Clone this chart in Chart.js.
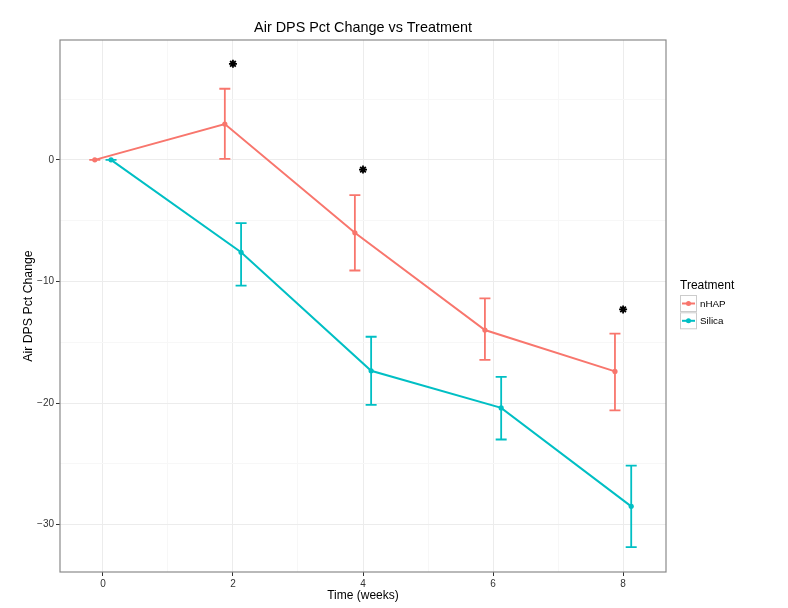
<!DOCTYPE html>
<html>
<head>
<meta charset="utf-8">
<script src="https://cdn.jsdelivr.net/npm/chart.js@4.4.1/dist/chart.umd.min.js"></script>
<style>
  html, body { margin: 0; padding: 0; background: #fff; }
  #wrap { width: 788px; height: 608px; }
</style>
</head>
<body>
<div id="wrap"><canvas id="chart" width="788" height="608"></canvas></div>
<script>
// weeks and group means / error bar ends
const weeks = [0, 2, 4, 6, 8];
const nhapMean = [0, 2.95, -6.0, -14.0, -17.4];
const nhapHigh = [0, 5.85, -2.9, -11.4, -14.3];
const nhapLow = [0, 0.08, -9.1, -16.45, -20.6];
const silicaMean = [0, -7.6, -17.35, -20.4, -28.5];
const silicaHigh = [0, -5.2, -14.55, -17.85, -25.15];
const silicaLow = [0, -10.35, -20.15, -23.0, -31.85];
// significance stars
const starWeeks = [2, 4, 8];
const starY = [7.9, -0.8, -12.3];
const xTicks = [0, 1, 2, 3, 4, 5, 6, 7, 8];
const yTicks = [-30, -25, -20, -15, -10, -5, 0, 5];

const DODGE = 0.125;
const RED = '#F8766D';
const TEAL = '#00BFC4';
const FONT = '"Liberation Sans", Arial, Helvetica, sans-serif';

function pts(xs, ys, shift) {
  return xs.map((x, i) => ({ x: x + shift, y: ys[i] }));
}

const groups = [
  { label: 'nHAP', color: RED, mean: nhapMean, low: nhapLow, high: nhapHigh, shift: -DODGE },
  { label: 'Silica', color: TEAL, mean: silicaMean, low: silicaLow, high: silicaHigh, shift: DODGE }
];

// error bars under the lines
const errorBars = {
  id: 'errorBars',
  beforeDatasetsDraw(chart) {
    const { ctx, scales: { x, y } } = chart;
    ctx.save();
    ctx.lineWidth = 1.8;
    groups.forEach(g => {
      ctx.strokeStyle = g.color;
      weeks.forEach((w, i) => {
        const px = x.getPixelForValue(w + g.shift);
        const top = y.getPixelForValue(g.high[i]);
        const bot = y.getPixelForValue(g.low[i]);
        ctx.beginPath();
        ctx.moveTo(px, top); ctx.lineTo(px, bot);
        ctx.moveTo(px - 5.5, top); ctx.lineTo(px + 5.5, top);
        ctx.moveTo(px - 5.5, bot); ctx.lineTo(px + 5.5, bot);
        ctx.stroke();
      });
    });
    ctx.restore();
  }
};

// panel border, title and legend
const decor = {
  id: 'decor',
  afterDraw(chart) {
    const { ctx, chartArea: a } = chart;
    ctx.save();
    ctx.strokeStyle = '#8a8a8a';
    ctx.lineWidth = 1.2;
    ctx.strokeRect(a.left, a.top, a.right - a.left, a.bottom - a.top);

    ctx.fillStyle = '#000';
    ctx.textAlign = 'center';
    ctx.textBaseline = 'middle';
    ctx.font = '14.4px ' + FONT;
    ctx.fillText('Air DPS Pct Change vs Treatment', (a.left + a.right) / 2, 28);

    ctx.textAlign = 'left';
    ctx.font = '12px ' + FONT;
    ctx.fillText('Treatment', 680, 286);
    groups.forEach((g, i) => {
      const top = 295 + i * 17.3;
      ctx.fillStyle = '#fff';
      ctx.fillRect(680, top, 17, 17);
      ctx.strokeStyle = '#cccccc';
      ctx.lineWidth = 1;
      ctx.strokeRect(680.5, top + 0.5, 16, 16);
      ctx.strokeStyle = g.color;
      ctx.lineWidth = 2;
      ctx.beginPath();
      ctx.moveTo(682, top + 8.5); ctx.lineTo(695, top + 8.5);
      ctx.stroke();
      ctx.fillStyle = g.color;
      ctx.beginPath();
      ctx.arc(688.5, top + 8.5, 2.5, 0, Math.PI * 2);
      ctx.fill();
      ctx.fillStyle = '#000';
      ctx.font = '9.8px ' + FONT;
      ctx.fillText(g.label, 700, top + 9);
    });
    ctx.restore();
  }
};

const datasets = groups.map(g => ({
  label: g.label,
  data: pts(weeks, g.mean, g.shift),
  borderColor: g.color,
  backgroundColor: g.color,
  borderWidth: 2,
  pointRadius: 2.6,
  pointBorderWidth: 0,
  pointBackgroundColor: g.color,
  tension: 0
}));
datasets.push({
  label: 'stars',
  data: pts(starWeeks, starY, 0),
  showLine: false,
  pointStyle: 'star',
  pointRadius: 4,
  borderColor: '#000',
  borderWidth: 1.8
});

new Chart(document.getElementById('chart'), {
  type: 'line',
  data: { datasets },
  options: {
    responsive: false,
    animation: false,
    layout: { padding: { left: 0, top: 40, right: 122, bottom: 0 } },
    plugins: { legend: { display: false }, title: { display: false }, tooltip: { enabled: false } },
    scales: {
      x: {
        type: 'linear',
        min: -0.66,
        max: 8.66,
        afterBuildTicks: s => { s.ticks = xTicks.map(v => ({ value: v })); },
        afterFit: s => { s.height = 36; },
        border: { display: false },
        grid: {
          color: c => (c.tick && c.tick.value % 2 === 0) ? '#ececec' : '#f7f7f7',
          tickColor: c => (c.tick && c.tick.value % 2 === 0) ? '#333' : 'rgba(0,0,0,0)',
          tickLength: 4,
          lineWidth: 1
        },
        ticks: {
          autoSkip: false,
          maxRotation: 0,
          padding: 2,
          color: '#333',
          font: { family: FONT, size: 10 },
          callback: v => (v % 2 === 0 ? String(v) : '')
        },
        title: {
          display: true,
          text: 'Time (weeks)',
          color: '#000',
          font: { family: FONT, size: 12 },
          padding: { top: 0, bottom: 5 }
        }
      },
      y: {
        type: 'linear',
        min: -33.9,
        max: 9.86,
        afterBuildTicks: s => { s.ticks = yTicks.map(v => ({ value: v })); },
        afterFit: s => { s.width = 60; },
        border: { display: false },
        grid: {
          color: c => (c.tick && c.tick.value % 10 === 0) ? '#ececec' : '#f7f7f7',
          tickColor: c => (c.tick && c.tick.value % 10 === 0) ? '#333' : 'rgba(0,0,0,0)',
          tickLength: 4,
          lineWidth: 1
        },
        ticks: {
          autoSkip: false,
          padding: 2,
          color: '#333',
          font: { family: FONT, size: 10 },
          callback: v => (v % 10 === 0 ? String(v).replace('-', '\u2212') : '')
        },
        title: {
          display: true,
          text: 'Air DPS Pct Change',
          color: '#000',
          font: { family: FONT, size: 12.3 },
          padding: { top: 21, bottom: 0 }
        }
      }
    }
  },
  plugins: [errorBars, decor]
});
</script>
</body>
</html>
